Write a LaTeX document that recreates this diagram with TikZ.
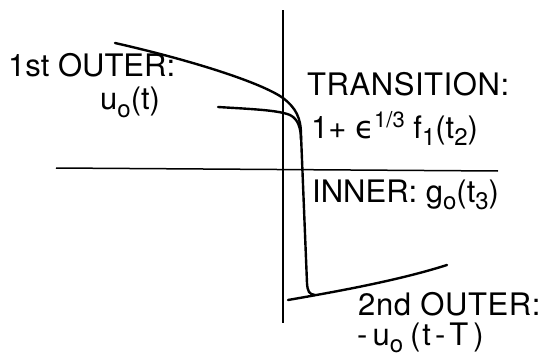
\documentclass[tikz,border=0pt]{standalone}
\usepackage{fontspec}
\setmainfont{TeX Gyre Heros}
\newfontfamily\dvfont{DejaVu Sans}
\newcommand\lo[1]{\raisebox{-7pt}{\fontsize{24}{28}\selectfont #1}}
\newcommand\hi[1]{\raisebox{11pt}{\fontsize{22}{26}\selectfont #1}}
\begin{document}
\begin{tikzpicture}[x=1pt,y=-1pt,
  lbl/.style={inner sep=0pt, anchor=base west, font=\fontsize{31}{36}\selectfont},
  axis/.style={line width=1.5pt},
  crv/.style={line width=2.4pt, line cap=round, line join=round}]
\useasboundingbox (0,0) rectangle (542,356);
% axes
\coordinate (vt) at (283,10);
\coordinate (vb) at (283,323);
\coordinate (hl) at (56,168);
\coordinate (hr) at (498,171);
\draw[axis] (vt) -- (vb);
\draw[axis] (hl) -- (hr);
% curve points
\coordinate (a0) at (115,43);
\coordinate (a1) at (283,98);
\coordinate (a2) at (301,135);
\coordinate (a3) at (307,283);
\coordinate (a4) at (315,295);
\coordinate (b0) at (218,107);
\coordinate (b1) at (290,115);
\coordinate (b2) at (301,140);
\coordinate (c0) at (288,300);
\coordinate (c1) at (447,265);
% full solution
\draw[crv] (a0) .. controls (190,60) and (260,82) .. (a1)
  .. controls (296,108) and (301,118) .. (a2) -- (a3)
  .. controls (307.5,291) and (309,294.5) .. (a4);
% first outer approximation
\draw[crv] (b0) .. controls (250,109) and (278,110) .. (b1)
  .. controls (298,119) and (301,128) .. (b2);
% second outer
\draw[crv] (c0) .. controls (340,291) and (400,280) .. (c1);
% labels
\node[lbl] (outer1) at (8,77) {1st OUTER:};
\node[lbl] (u0) at (100,110) {u\lo{o}(t)};
\node[lbl] (trans) at (307,95) {\addfontfeature{LetterSpace=1.8}TRANSITION:};
\node[lbl] (f1) at (311,138) {1+ {\dvfont ϵ}\hi{1/3} f\lo{1}(t\lo{2})};
\node[lbl] (inner) at (312,202) {INNER: g\lo{o}(t\lo{3})};
\node[lbl] (outer2) at (358,315) {\addfontfeature{LetterSpace=2}2nd OUTER:};
\node[lbl] (u0T) at (357,345) {-\hspace{5pt}u\lo{o}\hspace{7pt}(\hspace{2pt}t\hspace{4pt}-\hspace{4pt}T\hspace{5pt})};
\end{tikzpicture}
\end{document}
